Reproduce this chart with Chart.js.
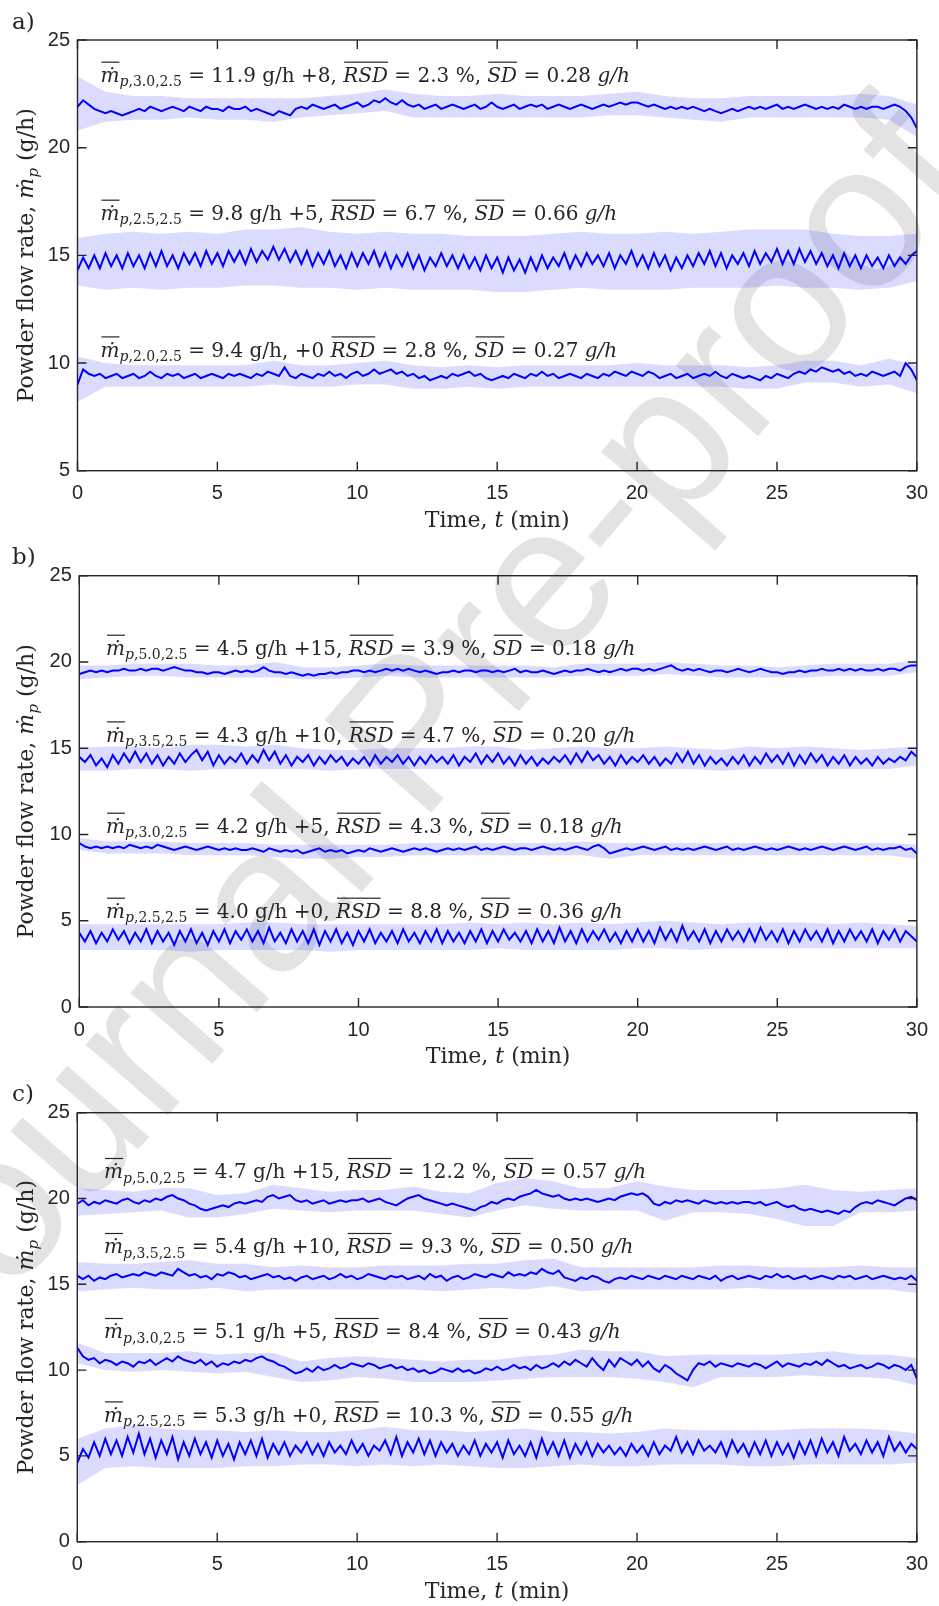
<!DOCTYPE html>
<html lang="en">
<head>
<meta charset="UTF-8">
<title>Powder flow rate vs time</title>
<script src="https://cdn.jsdelivr.net/npm/chart.js"></script>
<style>
  body { margin: 0; background: #fff; }
  #page { position: relative; width: 939px; height: 1606px; overflow: hidden; }
  .wm { position: absolute; left: 407px; top: 731px; transform: translate(-50%, -50%) rotate(-49deg);
        font: 205px "Liberation Sans", Arial, sans-serif; color: #e3e3e3; white-space: nowrap; line-height: 1; }
  .panel { position: absolute; left: 0; width: 939px; }
</style>
</head>
<body>
<div id="page">
  <div class="wm">Journal Pre-proof</div>
  <div class="panel" style="top:0;height:540px"><canvas id="chartA"></canvas></div>
  <div class="panel" style="top:540px;height:530px"><canvas id="chartB"></canvas></div>
  <div class="panel" style="top:1070px;height:536px"><canvas id="chartC"></canvas></div>
</div>

<script>
// time axis, minutes
const timeStep = 0.2;   // dark (smoothed) traces
const bandStep = 1;     // light raw-data envelope

// ---- panel a) ----
const a1Flow = [
  21.9, 22.2, 22.0, 21.8, 21.7, 21.6, 21.7, 21.6, 21.5, 21.6,
  21.7, 21.8, 21.7, 21.9, 21.8, 21.7, 21.8, 21.9, 21.8, 21.7,
  21.9, 21.8, 21.7, 21.9, 21.8, 21.8, 21.7, 21.9, 21.8, 21.8,
  21.9, 21.7, 21.8, 21.7, 21.6, 21.5, 21.7, 21.6, 21.5, 21.8,
  21.9, 21.8, 22.0, 21.9, 21.8, 21.9, 22.0, 21.8, 21.9, 22.0,
  22.1, 21.9, 22.0, 22.2, 22.1, 22.3, 22.1, 22.0, 22.2, 22.0,
  21.9, 22.0, 21.8, 21.9, 22.0, 21.8, 21.9, 22.0, 21.9, 21.8,
  21.9, 22.0, 21.8, 21.9, 22.1, 21.9, 21.8, 21.9, 22.0, 21.8,
  21.9, 22.0, 21.9, 22.0, 21.8, 21.9, 22.0, 21.9, 21.8, 21.9,
  22.0, 21.9, 21.8, 21.9, 22.0, 21.9, 22.0, 22.1, 22.0, 22.1,
  22.1, 22.0, 21.9, 22.0, 21.9, 21.8, 21.9, 21.8, 21.9, 21.8,
  21.9, 21.8, 21.7, 21.8, 21.7, 21.6, 21.7, 21.8, 21.7, 21.8,
  21.9, 21.8, 21.9, 21.8, 21.9, 22.0, 21.8, 21.9, 21.8, 21.9,
  22.0, 21.9, 21.8, 21.9, 21.8, 21.9, 21.8, 22.0, 21.9, 21.8,
  21.9, 21.8, 21.9, 21.9, 21.8, 21.9, 22.0, 21.9, 21.7, 21.4,
  20.9
];
const a1Upper = [
  23.3, 22.6, 22.4, 22.4, 22.3, 22.3, 22.3, 22.3, 22.3, 22.4,
  22.5, 22.7, 22.5, 22.4, 22.4, 22.5, 22.4, 22.4, 22.4, 22.5,
  22.6, 22.4, 22.3, 22.3, 22.4, 22.4, 22.4, 22.4, 22.5, 22.4,
  22.0
];
const a1Lower = [
  20.8, 21.2, 21.3, 21.3, 21.4, 21.3, 21.3, 21.2, 21.4, 21.5,
  21.6, 21.7, 21.4, 21.4, 21.4, 21.4, 21.4, 21.4, 21.4, 21.5,
  21.5, 21.4, 21.3, 21.2, 21.4, 21.4, 21.4, 21.4, 21.4, 21.3,
  20.5
];
const a2Flow = [
  14.3, 14.9, 14.4, 15.0, 14.4, 15.1, 14.5, 15.0, 14.4, 15.1,
  14.5, 15.0, 14.4, 15.1, 14.5, 15.2, 14.5, 15.0, 14.4, 15.1,
  14.6, 15.1, 14.5, 15.2, 14.6, 15.1, 14.5, 15.2, 14.7, 15.2,
  14.6, 15.3, 14.7, 15.2, 14.8, 15.4, 14.8, 15.3, 14.7, 15.2,
  14.6, 15.2, 14.5, 15.1, 14.6, 15.2, 14.5, 15.0, 14.4, 15.1,
  14.5, 15.1, 14.6, 15.2, 14.5, 15.1, 14.4, 15.0, 14.5, 15.1,
  14.4, 15.0, 14.3, 14.9, 14.5, 15.1, 14.5, 15.0, 14.4, 15.0,
  14.4, 14.9, 14.3, 15.0, 14.4, 14.9, 14.2, 14.9, 14.3, 14.8,
  14.2, 14.9, 14.3, 15.0, 14.4, 14.9, 14.5, 15.1, 14.4, 15.0,
  14.5, 15.1, 14.6, 15.0, 14.5, 15.1, 14.4, 15.0, 14.6, 15.2,
  14.5, 15.0, 14.4, 15.1, 14.5, 15.0, 14.3, 14.9, 14.4, 15.0,
  14.5, 15.1, 14.6, 15.2, 14.5, 15.1, 14.4, 15.0, 14.6, 15.1,
  14.5, 15.2, 14.6, 15.1, 14.7, 15.3, 14.6, 15.2, 14.6, 15.3,
  14.7, 15.2, 14.6, 15.1, 14.5, 15.0, 14.4, 15.1, 14.5, 15.0,
  14.4, 15.0, 14.5, 14.9, 14.4, 15.0, 14.5, 14.9, 14.6, 15.0,
  15.2
];
const a2Upper = [
  15.8, 16.0, 16.1, 16.0, 16.1, 16.0, 16.2, 16.2, 16.3, 16.1,
  16.0, 16.1, 16.0, 16.0, 15.9, 15.9, 15.9, 16.0, 16.1, 16.0,
  16.0, 16.1, 16.0, 16.1, 16.2, 16.2, 16.2, 16.0, 15.9, 15.9,
  16.0
];
const a2Lower = [
  13.6, 13.4, 13.5, 13.4, 13.5, 13.5, 13.6, 13.6, 13.5, 13.5,
  13.4, 13.5, 13.4, 13.4, 13.4, 13.3, 13.3, 13.4, 13.5, 13.4,
  13.4, 13.4, 13.5, 13.5, 13.5, 13.6, 13.5, 13.5, 13.4, 13.5,
  13.8
];
const a3Flow = [
  9.0, 9.7, 9.5, 9.4, 9.5, 9.3, 9.4, 9.5, 9.3, 9.4,
  9.5, 9.3, 9.4, 9.6, 9.4, 9.3, 9.5, 9.4, 9.5, 9.3,
  9.4, 9.5, 9.3, 9.4, 9.5, 9.4, 9.3, 9.5, 9.4, 9.5,
  9.4, 9.3, 9.5, 9.4, 9.6, 9.5, 9.4, 9.8, 9.4, 9.3,
  9.5, 9.4, 9.3, 9.5, 9.4, 9.6, 9.4, 9.5, 9.3, 9.5,
  9.6, 9.4, 9.5, 9.7, 9.5, 9.6, 9.7, 9.5, 9.6, 9.4,
  9.5, 9.3, 9.4, 9.2, 9.3, 9.4, 9.3, 9.5, 9.4, 9.5,
  9.6, 9.4, 9.5, 9.3, 9.2, 9.3, 9.4, 9.3, 9.5, 9.4,
  9.3, 9.5, 9.4, 9.6, 9.4, 9.5, 9.3, 9.4, 9.5, 9.4,
  9.3, 9.5, 9.4, 9.3, 9.5, 9.4, 9.6, 9.5, 9.4, 9.6,
  9.5, 9.4, 9.6, 9.5, 9.3, 9.4, 9.5, 9.3, 9.4, 9.5,
  9.3, 9.4, 9.5, 9.4, 9.6, 9.4, 9.3, 9.5, 9.4, 9.3,
  9.4, 9.3, 9.2, 9.4, 9.3, 9.5, 9.4, 9.3, 9.5, 9.6,
  9.5, 9.7, 9.6, 9.8, 9.7, 9.6, 9.7, 9.5, 9.6, 9.4,
  9.5, 9.4, 9.6, 9.5, 9.4, 9.5, 9.6, 9.4, 10.0, 9.7,
  9.2
];
const a3Upper = [
  10.3, 10.0, 9.9, 9.9, 9.9, 9.9, 9.9, 10.1, 9.9, 9.9,
  10.0, 10.1, 9.9, 9.8, 9.9, 9.8, 9.9, 9.9, 9.9, 9.9,
  10.0, 9.9, 9.9, 9.9, 9.8, 9.9, 10.1, 10.1, 9.9, 10.2,
  9.9
];
const a3Lower = [
  8.2, 8.9, 8.9, 8.9, 8.9, 8.9, 8.9, 9.0, 8.9, 8.9,
  9.0, 9.0, 8.8, 8.8, 8.9, 8.8, 8.9, 8.9, 8.9, 8.9,
  8.9, 8.9, 8.9, 8.9, 8.8, 8.8, 9.1, 9.1, 8.9, 9.0,
  8.6
];

// ---- panel b) ----
const b1Flow = [
  19.3, 19.4, 19.5, 19.4, 19.5, 19.4, 19.5, 19.5, 19.6, 19.5,
  19.5, 19.6, 19.5, 19.6, 19.6, 19.5, 19.6, 19.7, 19.6, 19.5,
  19.5, 19.4, 19.4, 19.3, 19.4, 19.4, 19.3, 19.4, 19.5, 19.4,
  19.5, 19.4, 19.5, 19.7, 19.5, 19.4, 19.4, 19.3, 19.4, 19.3,
  19.2, 19.3, 19.2, 19.3, 19.3, 19.4, 19.3, 19.4, 19.4, 19.5,
  19.5, 19.4, 19.5, 19.4, 19.5, 19.6, 19.5, 19.6, 19.5, 19.6,
  19.5, 19.4, 19.5, 19.4, 19.3, 19.4, 19.4, 19.5, 19.4, 19.5,
  19.5, 19.4, 19.5, 19.5, 19.4, 19.5, 19.4, 19.5, 19.6, 19.4,
  19.5, 19.4, 19.4, 19.5, 19.4, 19.3, 19.4, 19.5, 19.4, 19.5,
  19.5, 19.6, 19.5, 19.4, 19.5, 19.4, 19.5, 19.6, 19.5, 19.6,
  19.6, 19.5, 19.6, 19.5, 19.6, 19.7, 19.8, 19.6, 19.5, 19.6,
  19.5, 19.6, 19.5, 19.4, 19.5, 19.5, 19.4, 19.5, 19.6, 19.5,
  19.4, 19.5, 19.6, 19.5, 19.4, 19.4, 19.3, 19.4, 19.4, 19.5,
  19.4, 19.5, 19.5, 19.6, 19.5, 19.5, 19.6, 19.5, 19.6, 19.5,
  19.6, 19.5, 19.5, 19.6, 19.5, 19.6, 19.6, 19.5, 19.7, 19.8,
  19.8
];
const b1Upper = [
  19.8, 19.8, 19.9, 19.9, 19.9, 19.8, 19.8, 20.0, 19.7, 19.7,
  19.8, 19.9, 19.8, 19.8, 19.8, 19.8, 19.8, 19.7, 19.9, 19.9,
  19.9, 20.0, 19.9, 19.8, 19.8, 19.7, 19.8, 19.9, 19.9, 19.9,
  20.1
];
const b1Lower = [
  19.0, 19.1, 19.2, 19.2, 19.1, 19.1, 19.1, 19.1, 19.0, 19.0,
  19.1, 19.2, 19.1, 19.1, 19.1, 19.1, 19.1, 19.1, 19.2, 19.2,
  19.2, 19.3, 19.2, 19.1, 19.1, 19.1, 19.1, 19.2, 19.2, 19.2,
  19.4
];
const b2Flow = [
  14.5, 14.2, 14.6, 14.0, 14.4, 13.9, 14.6, 14.1, 14.7, 14.2,
  14.8, 14.2, 14.7, 14.1, 14.6, 14.0, 14.5, 14.1, 14.7, 14.2,
  14.6, 14.9, 14.3, 14.8, 14.0, 14.6, 14.1, 14.5, 14.2, 14.7,
  14.1, 14.6, 14.2, 14.9, 14.3, 14.8, 14.1, 14.6, 14.0, 14.5,
  14.2, 14.6, 14.0, 14.5, 14.1, 14.6, 14.2, 14.5, 14.0, 14.4,
  14.1, 14.5, 14.0, 14.6, 14.1, 14.5, 14.2, 14.6, 14.1, 14.5,
  14.0, 14.5, 14.1, 14.6, 14.2, 14.5, 14.1, 14.6, 14.0, 14.5,
  14.2, 14.7, 14.1, 14.6, 14.2, 14.7, 14.1, 14.5, 14.0, 14.6,
  14.1, 14.5, 14.0, 14.4, 14.1, 14.5, 14.2, 14.6, 14.1, 14.7,
  14.2, 14.8, 14.3, 14.6, 14.1, 14.5, 14.0, 14.6, 14.1, 14.5,
  14.2, 14.6, 14.1, 14.5, 14.0, 14.4, 14.1, 14.7, 14.2, 14.8,
  14.1, 14.6, 14.0, 14.5, 14.1, 14.4, 14.0, 14.5, 14.1, 14.6,
  14.0, 14.5, 14.1, 14.7, 14.2, 14.6, 14.1, 14.7, 14.0, 14.6,
  14.1, 14.7, 14.2, 14.6, 14.0, 14.5, 14.1, 14.6, 14.0, 14.5,
  14.1, 14.4, 14.0, 14.5, 14.1, 14.4, 14.2, 14.5, 14.3, 14.8,
  14.5
];
const b2Upper = [
  15.0, 15.1, 15.1, 15.0, 15.2, 15.2, 15.1, 15.2, 15.0, 14.9,
  14.9, 15.0, 15.0, 15.0, 15.1, 15.1, 14.9, 15.0, 15.1, 15.0,
  15.0, 15.1, 15.0, 14.9, 15.1, 15.0, 15.1, 15.0, 14.9, 15.0,
  15.1
];
const b2Lower = [
  13.7, 13.7, 13.8, 13.8, 13.7, 13.8, 13.8, 13.8, 13.8, 13.7,
  13.8, 13.8, 13.8, 13.8, 13.8, 13.8, 13.8, 13.8, 13.8, 13.8,
  13.8, 13.8, 13.8, 13.7, 13.8, 13.8, 13.8, 13.8, 13.8, 13.8,
  14.0
];
const b3Flow = [
  9.5, 9.3, 9.2, 9.3, 9.2, 9.3, 9.2, 9.3, 9.2, 9.4,
  9.3, 9.2, 9.3, 9.2, 9.4, 9.3, 9.2, 9.1, 9.2, 9.3,
  9.2, 9.1, 9.2, 9.3, 9.2, 9.1, 9.2, 9.1, 9.2, 9.1,
  9.1, 9.2, 9.1, 9.0, 9.2, 9.1, 9.0, 9.1, 9.0, 9.1,
  8.9, 9.0, 9.1, 9.2, 9.0, 9.1, 9.0, 9.1, 8.9, 9.0,
  9.1, 9.0, 9.2, 9.1, 9.0, 9.1, 9.2, 9.1, 9.0, 9.1,
  9.2, 9.1, 9.2, 9.1, 9.0, 9.1, 9.2, 9.1, 9.2, 9.1,
  9.2, 9.3, 9.1, 9.2, 9.1, 9.2, 9.3, 9.2, 9.1, 9.2,
  9.2, 9.1, 9.2, 9.3, 9.2, 9.1, 9.2, 9.1, 9.2, 9.3,
  9.2, 9.1, 9.3, 9.4, 9.2, 8.9, 9.0, 9.1, 9.2, 9.1,
  9.2, 9.3, 9.2, 9.1, 9.2, 9.3, 9.1, 9.2, 9.1, 9.2,
  9.1, 9.2, 9.3, 9.2, 9.1, 9.2, 9.3, 9.1, 9.2, 9.1,
  9.2, 9.3, 9.2, 9.1, 9.2, 9.1, 9.2, 9.3, 9.2, 9.1,
  9.2, 9.1, 9.2, 9.3, 9.2, 9.1, 9.2, 9.3, 9.2, 9.1,
  9.2, 9.3, 9.1, 9.2, 9.1, 9.2, 9.2, 9.3, 9.1, 9.2,
  8.9
];
const b3Upper = [
  9.8, 9.6, 9.6, 9.6, 9.5, 9.5, 9.5, 9.4, 9.4, 9.4,
  9.4, 9.4, 9.5, 9.5, 9.5, 9.5, 9.5, 9.5, 9.6, 9.5,
  9.5, 9.5, 9.5, 9.5, 9.5, 9.5, 9.5, 9.5, 9.5, 9.5,
  9.4
];
const b3Lower = [
  9.1, 8.9, 8.9, 8.9, 8.8, 8.8, 8.8, 8.7, 8.6, 8.6,
  8.7, 8.7, 8.8, 8.8, 8.8, 8.8, 8.8, 8.8, 8.8, 8.6,
  8.8, 8.8, 8.8, 8.8, 8.8, 8.8, 8.8, 8.8, 8.8, 8.8,
  8.6
];
const b4Flow = [
  4.3, 3.8, 4.4, 3.7, 4.3, 3.8, 4.5, 3.9, 4.4, 3.7,
  4.3, 3.8, 4.5, 3.7, 4.4, 3.8, 4.3, 3.6, 4.4, 3.8,
  4.5, 3.7, 4.3, 3.6, 4.4, 3.8, 4.5, 3.7, 4.4, 3.9,
  4.5, 3.8, 4.4, 3.7, 4.6, 3.8, 4.3, 3.7, 4.5, 3.8,
  4.4, 3.7, 4.5, 3.6, 4.4, 3.8, 4.5, 3.7, 4.3, 3.6,
  4.4, 3.8, 4.5, 3.7, 4.3, 3.8, 4.4, 3.7, 4.5, 3.8,
  4.3, 3.7, 4.4, 3.8, 4.5, 3.7, 4.4, 3.8, 4.3, 3.7,
  4.4, 3.8, 4.5, 3.7, 4.4, 3.8, 4.5, 3.9, 4.3, 3.8,
  4.4, 3.7, 4.5, 3.8, 4.4, 3.7, 4.6, 3.8, 4.4, 3.7,
  4.5, 3.8, 4.4, 3.9, 4.5, 3.8, 4.3, 3.7, 4.4, 3.8,
  4.5, 3.8, 4.4, 3.7, 4.6, 3.9, 4.5, 3.8, 4.7, 3.9,
  4.4, 3.8, 4.5, 3.7, 4.4, 3.8, 4.5, 3.9, 4.4, 3.8,
  4.5, 3.8, 4.6, 3.9, 4.4, 3.8, 4.5, 3.7, 4.4, 3.8,
  4.5, 3.9, 4.4, 3.8, 4.5, 3.7, 4.4, 3.8, 4.5, 3.9,
  4.4, 3.8, 4.5, 3.7, 4.4, 3.9, 4.5, 3.8, 4.4, 4.1,
  3.8
];
const b4Upper = [
  4.8, 4.8, 4.8, 4.8, 4.8, 4.8, 4.9, 4.9, 4.8, 4.8,
  4.8, 4.8, 4.8, 4.8, 4.9, 4.8, 4.9, 4.8, 4.9, 4.8,
  4.9, 5.0, 4.9, 4.8, 4.9, 4.9, 4.9, 4.8, 4.9, 4.8,
  4.7
];
const b4Lower = [
  3.3, 3.3, 3.3, 3.3, 3.2, 3.3, 3.3, 3.3, 3.3, 3.2,
  3.3, 3.3, 3.3, 3.3, 3.3, 3.4, 3.3, 3.3, 3.3, 3.3,
  3.4, 3.4, 3.3, 3.4, 3.4, 3.4, 3.4, 3.4, 3.4, 3.4,
  3.4
];

// ---- panel c) ----
const c1Flow = [
  19.7, 19.9, 19.6, 19.8, 19.7, 19.9, 19.8, 19.7, 19.9, 20.0,
  19.8, 19.7, 19.9, 19.8, 20.0, 19.9, 20.1, 20.2, 20.0, 19.9,
  19.7, 19.6, 19.4, 19.3, 19.4, 19.5, 19.6, 19.5, 19.7, 19.8,
  19.7, 19.8, 19.9, 19.8, 20.1, 20.2, 20.0, 20.1, 20.2, 19.9,
  19.8, 19.9, 19.7, 19.8, 19.9, 19.7, 19.8, 19.9, 19.8, 19.9,
  19.9, 20.0, 19.8, 19.9, 20.0, 19.8, 19.7, 19.6, 19.8, 20.0,
  20.1, 20.2, 20.0, 19.9, 19.8, 19.7, 19.6, 19.7, 19.6, 19.5,
  19.4, 19.3, 19.5, 19.6, 19.8, 19.7, 19.9, 20.0, 19.9, 20.1,
  20.2, 20.3, 20.5, 20.3, 20.2, 20.1, 20.2, 20.0, 19.9, 20.0,
  19.9, 20.0, 19.9, 19.8, 19.9, 20.0, 19.9, 20.1, 20.2, 20.3,
  20.2, 20.3, 20.1, 19.7, 19.6, 19.8, 19.7, 19.9, 19.8, 19.9,
  19.8, 19.7, 19.9, 19.8, 19.7, 19.8, 19.7, 19.8, 19.7, 19.8,
  19.8, 19.7, 19.8, 19.6, 19.7, 19.8, 19.6, 19.5, 19.6, 19.4,
  19.3, 19.4, 19.3, 19.2, 19.3, 19.2, 19.1, 19.3, 19.2, 19.5,
  19.7, 19.8, 19.7, 19.9, 19.8, 19.7, 19.6, 19.8, 20.0, 20.1,
  19.9
];
const c1Upper = [
  20.6, 20.5, 20.4, 20.6, 20.6, 20.2, 20.3, 20.8, 20.6, 20.4,
  20.5, 20.5, 20.7, 20.4, 20.3, 20.9, 21.2, 21.0, 20.6, 20.6,
  21.0, 20.7, 20.5, 20.5, 20.5, 20.6, 20.8, 20.5, 20.4, 20.5,
  20.6
];
const c1Lower = [
  19.0, 19.1, 19.2, 19.3, 18.9, 18.9, 19.1, 19.4, 19.3, 19.2,
  19.3, 19.3, 19.3, 19.1, 18.9, 19.3, 19.6, 19.4, 19.3, 19.3,
  19.3, 18.7, 19.2, 19.2, 19.1, 18.8, 18.4, 18.4, 19.2, 19.2,
  19.3
];
const c2Flow = [
  15.5, 15.3, 15.5, 15.2, 15.4, 15.3, 15.5, 15.6, 15.4, 15.5,
  15.6, 15.5, 15.7, 15.6, 15.5, 15.7, 15.6, 15.5, 15.9, 15.7,
  15.5, 15.6, 15.4, 15.5, 15.3, 15.6, 15.5, 15.7, 15.6, 15.4,
  15.5, 15.3, 15.4, 15.5, 15.6, 15.4, 15.5, 15.3, 15.4, 15.2,
  15.4, 15.5, 15.3, 15.4, 15.5, 15.3, 15.4, 15.6, 15.4, 15.5,
  15.3, 15.4, 15.6, 15.5, 15.4, 15.3, 15.5, 15.4, 15.5, 15.3,
  15.4, 15.5, 15.3, 15.6, 15.4, 15.5, 15.2, 15.4, 15.5, 15.3,
  15.4, 15.6, 15.5, 15.4, 15.6, 15.5, 15.4, 15.7, 15.5, 15.6,
  15.5, 15.7, 15.6, 15.9, 15.7, 15.6, 15.8, 15.4, 15.3, 15.2,
  15.4, 15.3, 15.5, 15.4, 15.2, 15.1, 15.3, 15.4, 15.3, 15.5,
  15.4, 15.3, 15.5, 15.4, 15.3, 15.5, 15.4, 15.3, 15.5, 15.4,
  15.3, 15.5, 15.4, 15.3, 15.5, 15.2, 15.4, 15.5, 15.3, 15.4,
  15.5, 15.4, 15.3, 15.5, 15.4, 15.6, 15.4, 15.5, 15.3, 15.4,
  15.5, 15.3, 15.4, 15.5, 15.4, 15.3, 15.5, 15.4, 15.5, 15.3,
  15.4, 15.5, 15.3, 15.4, 15.5, 15.4, 15.3, 15.4, 15.3, 15.5,
  15.2
];
const c2Upper = [
  16.3, 16.2, 16.2, 16.3, 16.4, 16.2, 16.2, 16.0, 16.1, 16.0,
  16.0, 16.1, 16.1, 16.1, 16.2, 16.2, 16.4, 16.5, 16.0, 16.0,
  16.0, 16.0, 16.0, 16.1, 16.1, 16.0, 16.0, 16.0, 16.1, 16.0,
  16.0
];
const c2Lower = [
  14.6, 14.7, 14.8, 14.7, 14.7, 14.8, 14.6, 14.7, 14.7, 14.7,
  14.7, 14.7, 14.7, 14.6, 14.7, 14.8, 14.7, 14.9, 14.6, 14.7,
  14.7, 14.7, 14.7, 14.7, 14.8, 14.7, 14.7, 14.7, 14.7, 14.7,
  14.5
];
const c3Flow = [
  11.3, 10.8, 10.6, 10.7, 10.4, 10.6, 10.5, 10.3, 10.5, 10.4,
  10.2, 10.5, 10.4, 10.6, 10.3, 10.5, 10.7, 10.5, 10.8, 10.6,
  10.5, 10.4, 10.6, 10.3, 10.5, 10.2, 10.4, 10.3, 10.5, 10.4,
  10.6, 10.5, 10.7, 10.8, 10.6, 10.5, 10.3, 10.2, 10.0, 9.8,
  9.9, 10.1, 9.9, 10.2, 10.0, 10.1, 10.3, 10.1, 10.2, 10.4,
  10.3, 10.2, 10.4, 10.3, 10.1, 10.2, 10.3, 10.1, 10.2, 10.0,
  10.1, 9.9, 10.0, 9.8, 9.9, 10.1, 10.0, 9.9, 10.1, 9.9,
  10.0, 9.8, 9.9, 10.1, 10.0, 10.2, 10.0, 10.1, 10.3, 10.1,
  10.2, 10.0, 10.3, 10.1, 10.2, 10.4, 10.2, 10.5, 10.3, 10.6,
  10.4, 10.2, 10.7, 10.3, 10.0, 10.6, 10.2, 10.7, 10.5, 10.3,
  10.6, 10.2, 10.5, 10.1, 9.9, 10.3, 10.1, 9.8, 9.6, 9.4,
  10.0, 10.4, 10.3, 10.5, 10.2, 10.4, 10.3, 10.2, 10.4, 10.3,
  10.2, 10.4, 10.3, 10.1, 10.3, 10.5, 10.2, 10.4, 10.3, 10.2,
  10.4, 10.3, 10.5, 10.3, 10.6, 10.4, 10.2, 10.3, 10.1, 10.2,
  10.3, 10.1, 10.2, 10.4, 10.3, 10.1, 10.3, 10.2, 10.0, 10.3,
  9.5
];
const c3Upper = [
  11.6, 11.0, 11.0, 11.0, 11.1, 10.9, 11.0, 11.0, 10.5, 10.7,
  10.8, 10.7, 10.6, 10.5, 10.6, 10.6, 10.8, 10.9, 11.2, 11.1,
  11.1, 10.8, 10.9, 10.9, 10.9, 10.9, 11.0, 11.1, 10.9, 10.9,
  10.7
];
const c3Lower = [
  10.4, 10.0, 9.9, 10.0, 9.9, 9.8, 9.9, 9.6, 9.3, 9.4,
  9.6, 9.5, 9.3, 9.3, 9.3, 9.4, 9.5, 9.6, 9.6, 9.6,
  9.5, 9.3, 9.0, 9.6, 9.6, 9.6, 9.7, 9.6, 9.6, 9.5,
  9.1
];
const c4Flow = [
  4.6, 5.4, 4.9, 5.8, 5.0, 6.0, 5.1, 5.9, 5.0, 6.1,
  5.2, 6.3, 5.1, 6.0, 4.9, 5.9, 5.1, 6.1, 4.8, 5.8,
  5.0, 6.0, 5.1, 5.8, 4.9, 5.9, 5.0, 5.7, 4.8, 5.8,
  5.1, 5.9, 5.0, 6.0, 4.9, 5.7, 5.1, 5.8, 5.0, 5.6,
  5.2, 5.8, 5.1, 5.7, 5.0, 5.8, 5.2, 5.6, 5.1, 5.9,
  5.2, 5.7, 5.0, 5.6, 5.3, 5.9, 5.1, 6.1, 5.0, 5.8,
  5.2, 6.0, 5.1, 5.9, 5.0, 5.8, 5.2, 5.7, 5.0, 5.6,
  5.1, 5.9, 5.0, 5.7, 5.2, 5.8, 4.9, 5.9, 5.1, 5.6,
  5.0, 5.8, 4.9, 6.0, 5.1, 5.8, 5.0, 5.9, 4.9, 5.7,
  5.1, 5.8, 5.0, 5.7, 5.2, 5.6, 5.1, 5.5, 5.0, 5.7,
  5.2, 5.6, 5.0, 5.8, 5.1, 5.6, 5.3, 6.1, 5.2, 5.8,
  5.1, 5.9, 5.3, 5.6, 5.2, 5.8, 5.0, 5.9, 5.2, 5.7,
  5.0, 5.8, 5.1, 5.9, 5.0, 5.8, 5.1, 5.7, 4.9, 5.8,
  5.1, 5.9, 5.0, 6.0, 5.2, 5.8, 5.0, 6.1, 5.3, 5.7,
  5.1, 5.9, 5.2, 5.8, 5.0, 6.1, 5.3, 5.8, 5.2, 5.7,
  5.4
];
const c4Upper = [
  6.0, 6.6, 6.8, 6.6, 6.5, 6.5, 6.4, 6.5, 6.4, 6.4,
  6.5, 6.7, 6.5, 6.5, 6.4, 6.5, 6.6, 6.4, 6.4, 6.3,
  6.4, 6.6, 6.5, 6.5, 6.5, 6.5, 6.6, 6.6, 6.6, 6.5,
  6.3
];
const c4Lower = [
  3.3, 4.3, 4.4, 4.3, 4.3, 4.3, 4.4, 4.4, 4.5, 4.5,
  4.4, 4.5, 4.4, 4.5, 4.4, 4.3, 4.3, 4.4, 4.5, 4.4,
  4.4, 4.5, 4.5, 4.5, 4.4, 4.4, 4.5, 4.5, 4.5, 4.5,
  4.6
];

// annotation texts
const aCodes = ['3.0,2.5', '2.5,2.5', '2.0,2.5'];
const aMeans = ['11.9', '9.8', '9.4'];
const aUnits = ['g/h', 'g/h', 'g/h,'];
const aShift = ['+8,', '+5,', '+0'];
const aRsd = ['2.3', '6.7', '2.8'];
const aSd = ['0.28', '0.66', '0.27'];

const bCodes = ['5.0,2.5', '3.5,2.5', '3.0,2.5', '2.5,2.5'];
const bMeans = ['4.5', '4.3', '4.2', '4.0'];
const bUnits = ['g/h', 'g/h', 'g/h', 'g/h'];
const bShift = ['+15,', '+10,', '+5,', '+0,'];
const bRsd = ['3.9', '4.7', '4.3', '8.8'];
const bSd = ['0.18', '0.20', '0.18', '0.36'];

const cCodes = ['5.0,2.5', '3.5,2.5', '3.0,2.5', '2.5,2.5'];
const cMeans = ['4.7', '5.4', '5.1', '5.3'];
const cUnits = ['g/h', 'g/h', 'g/h', 'g/h'];
const cShift = ['+15,', '+10,', '+5,', '+0,'];
const cRsd = ['12.2', '9.3', '8.4', '10.3'];
const cSd = ['0.57', '0.50', '0.43', '0.55'];

const INK = '#262626';
const SERIF = '"DejaVu Serif", serif';
const SANS = '"Liberation Sans", Arial, sans-serif';

function toPoints(values, step) {
  return values.map((v, i) => ({ x: i * step, y: v }));
}

function traceSets(line, upper, lower) {
  return [
    { data: toPoints(line, timeStep), borderColor: '#0000ff', borderWidth: 2, fill: false, order: 0 },
    { data: toPoints(upper, bandStep), borderColor: 'rgba(0,0,0,0)', borderWidth: 0,
      backgroundColor: 'rgba(0,0,255,0.14)', fill: '+1', order: 1 },
    { data: toPoints(lower, bandStep), borderColor: 'rgba(0,0,0,0)', borderWidth: 0, fill: false, order: 1 }
  ];
}

function noteSegs(code, mean, unit, shift, rsd, sd) {
  return [
    { t: '\u1E41', it: true, ov: true },
    { t: 'p', it: true, sub: true }, { t: ',' + code, sub: true },
    { t: ' = ' + mean + ' ' + unit + ' ' + shift + ' ' },
    { t: 'RSD', it: true, ov: true },
    { t: ' = ' + rsd + ' %, ' },
    { t: 'SD', it: true, ov: true },
    { t: ' = ' + sd + ' ' },
    { t: 'g/h', it: true }
  ];
}

function drawRich(ctx, segs, x, y, size, measureOnly) {
  let cx = x;
  segs.forEach(s => {
    const sz = s.sub ? size * 0.7 : size;
    ctx.font = (s.it ? 'italic ' : '') + sz + 'px ' + SERIF;
    const w = ctx.measureText(s.t).width;
    if (!measureOnly) {
      ctx.fillText(s.t, cx, s.sub ? y + size * 0.22 : y);
      if (s.ov) ctx.fillRect(cx + 1, y - size * 1.02, w - 1, 1.2);
    }
    cx += w;
  });
  return cx - x;
}

// frame, inside ticks and all the serif text of one panel
function decor(label, notes) {
  return {
    id: 'decor',
    afterDraw(chart) {
      const { ctx, chartArea: a, scales } = chart;
      ctx.save();
      ctx.strokeStyle = INK;
      ctx.lineWidth = 1.4;
      ctx.strokeRect(a.left, a.top, a.right - a.left, a.bottom - a.top);
      ctx.beginPath();
      scales.x.ticks.forEach(t => {
        const px = scales.x.getPixelForValue(t.value);
        ctx.moveTo(px, a.bottom); ctx.lineTo(px, a.bottom - 9);
        ctx.moveTo(px, a.top); ctx.lineTo(px, a.top + 9);
      });
      scales.y.ticks.forEach(t => {
        const py = scales.y.getPixelForValue(t.value);
        ctx.moveTo(a.left, py); ctx.lineTo(a.left + 9, py);
        ctx.moveTo(a.right, py); ctx.lineTo(a.right - 9, py);
      });
      ctx.stroke();

      ctx.fillStyle = INK;
      ctx.textAlign = 'left';
      ctx.textBaseline = 'alphabetic';
      notes.forEach(n => drawRich(ctx, n.segs, a.left + n.dx, a.top + n.dy, 20));

      ctx.font = '23px ' + SERIF;
      ctx.fillText(label, 12, a.top - 11.5);

      const xt = [{ t: 'Time, ' }, { t: 't', it: true }, { t: ' (min)' }];
      const xw = drawRich(ctx, xt, 0, 0, 22, true);
      drawRich(ctx, xt, (a.left + a.right) / 2 - xw / 2, a.bottom + 56, 22);

      const yt = [{ t: 'Powder flow rate, ' }, { t: '\u1E41', it: true }, { t: 'p', it: true, sub: true }, { t: ' (g/h)' }];
      const yw = drawRich(ctx, yt, 0, 0, 22, true);
      ctx.translate(33, (a.top + a.bottom) / 2);
      ctx.rotate(-Math.PI / 2);
      drawRich(ctx, yt, -yw / 2, 0, 22);
      ctx.restore();
    }
  };
}

function buildNotes(codes, means, units, shift, rsd, sd, dx, dys) {
  return codes.map((c, i) => ({ dx: dx, dy: dys[i], segs: noteSegs(c, means[i], units[i], shift[i], rsd[i], sd[i]) }));
}

function makeChart(id, box, yMin, sets, label, notes) {
  return new Chart(document.getElementById(id), {
    type: 'line',
    data: { datasets: sets },
    options: {
      responsive: true,
      maintainAspectRatio: false,
      animation: false,
      events: [],
      elements: { point: { radius: 0 }, line: { tension: 0 } },
      layout: { padding: { top: box.top, right: box.right, left: 0, bottom: 0 } },
      plugins: { legend: { display: false }, tooltip: { enabled: false } },
      scales: {
        x: {
          type: 'linear', min: 0, max: 30,
          grid: { display: false, drawTicks: false }, border: { display: false },
          ticks: { stepSize: 5, padding: 11, color: INK, autoSkip: false, maxRotation: 0,
                   font: { family: SANS, size: 20 } },
          afterFit: s => { s.height = box.xh; }
        },
        y: {
          type: 'linear', min: yMin, max: 25,
          grid: { display: false, drawTicks: false }, border: { display: false },
          ticks: { stepSize: 5, padding: 7.5, color: INK, font: { family: SANS, size: 20 } },
          afterFit: s => { s.width = box.left; }
        }
      }
    },
    plugins: [decor(label, notes)]
  });
}

makeChart('chartA', { top: 40, left: 77.5, right: 15, xh: 69.3 }, 5,
  [].concat(traceSets(a1Flow, a1Upper, a1Lower), traceSets(a2Flow, a2Upper, a2Lower), traceSets(a3Flow, a3Upper, a3Lower)),
  'a)', buildNotes(aCodes, aMeans, aUnits, aShift, aRsd, aSd, 23, [42, 180, 316.7]));

makeChart('chartB', { top: 35.7, left: 79.3, right: 13.5, xh: 63 }, 0,
  [].concat(traceSets(b1Flow, b1Upper, b1Lower), traceSets(b2Flow, b2Upper, b2Lower),
            traceSets(b3Flow, b3Upper, b3Lower), traceSets(b4Flow, b4Upper, b4Lower)),
  'b)', buildNotes(bCodes, bMeans, bUnits, bShift, bRsd, bSd, 26.7, [79.3, 166, 257.3, 342.3]));

makeChart('chartC', { top: 42.7, left: 77.3, right: 14.7, xh: 64.3 }, 0,
  [].concat(traceSets(c1Flow, c1Upper, c1Lower), traceSets(c2Flow, c2Upper, c2Lower),
            traceSets(c3Flow, c3Upper, c3Lower), traceSets(c4Flow, c4Upper, c4Lower)),
  'c)', buildNotes(cCodes, cMeans, cUnits, cShift, cRsd, cSd, 26.7, [65.6, 140.6, 225.6, 309]));
</script>
</body>
</html>
